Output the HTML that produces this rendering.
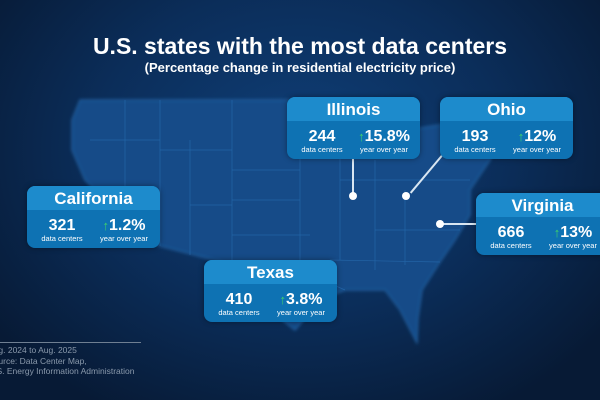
<!DOCTYPE html>
<html><head><meta charset="utf-8"><style>
body{margin:0;width:600px;height:400px;overflow:hidden;font-family:"Liberation Sans",sans-serif;}
#bg{position:absolute;left:0;top:0;width:600px;height:400px;background:radial-gradient(ellipse 380px 300px at 300px 150px,#0f3f78 0%,#0b2d59 55%,#071a35 100%);}
.t{position:absolute;left:0;width:600px;text-align:center;color:#fff;font-weight:bold;}
.box{position:absolute;width:133px;height:62px;border-radius:8px;overflow:hidden;background:#0e72b3;box-shadow:0 0 6px rgba(0,0,0,.4);color:#fff;}
.box .h{height:24px;background:#1d8bcc;text-align:center;font-weight:bold;font-size:17px;line-height:25px;}
.box .c{position:absolute;top:31px;text-align:center;width:62px;}
.c .n{font-weight:bold;font-size:16px;line-height:17px;}
.c .s{font-size:7.5px;line-height:10px;}
.ar{color:#3fd16a;font-size:13px;}
.dot{position:absolute;width:8px;height:8px;border-radius:50%;background:#fff;}
.ln{position:absolute;background:#d8e6f2;}
.fn{position:absolute;left:-12px;color:#8a99ab;font-size:8.5px;line-height:10.5px;}
</style></head><body>
<div id="bg"></div>
<svg width="600" height="400" style="position:absolute;left:0;top:0">
<defs><filter id="b"><feGaussianBlur stdDeviation="1.5"/></filter></defs>
<path filter="url(#b)" d="M80,100 L290,100 L330,108 L360,125 L395,135 L420,128 L470,120 L498,140 L490,160 L470,190 L470,215 L455,240 L440,262 L422,290 L418,318 L417,343 L400,310 L385,290 L345,290 L320,300 L295,330 L280,318 L262,295 L240,278 L222,262 L160,246 L140,238 L128,225 L105,200 L85,180 L72,150 L72,120 Z" fill="#134c88" stroke="#2769ad" stroke-width="1"/>
<g stroke="#2a6fb4" stroke-width="0.7" fill="none" opacity="0.7">
<path d="M125,100 L125,200 M160,100 L160,246 M190,140 L190,255 M232,100 L232,270 M232,170 L300,170 M232,200 L300,200 M232,235 L310,235 M300,140 L300,270 M160,150 L232,150 M190,205 L232,205 M300,140 L340,140 M340,140 L340,260 M375,160 L375,270 M300,270 L345,290 M405,190 L405,265 M375,230 L460,230 M330,260 L440,262 M340,180 L470,180 M90,140 L160,140"/>
</g>
</svg>
<div class="t" style="top:33px;font-size:23px">U.S. states with the most data centers</div>
<div class="t" style="top:60px;font-size:13px">(Percentage change in residential electricity price)</div>

<div class="ln" style="left:352px;top:159px;width:2px;height:37px"></div>
<div class="dot" style="left:349px;top:192px"></div>
<div class="ln" style="top:154px;width:2px;height:50px;transform:rotate(40deg);transform-origin:top left;left:442px"></div>
<div class="dot" style="left:402px;top:192px"></div>
<div class="ln" style="left:440px;top:223px;width:38px;height:2px"></div>
<div class="dot" style="left:436px;top:220px"></div>

<div class="box" style="left:287px;top:97px"><div class="h">Illinois</div>
<div class="c" style="left:4px"><div class="n">244</div><div class="s">data centers</div></div>
<div class="c" style="left:66px"><div class="n"><span class="ar">↑</span>15.8%</div><div class="s">year over year</div></div></div>

<div class="box" style="left:440px;top:97px"><div class="h">Ohio</div>
<div class="c" style="left:4px"><div class="n">193</div><div class="s">data centers</div></div>
<div class="c" style="left:66px"><div class="n"><span class="ar">↑</span>12%</div><div class="s">year over year</div></div></div>

<div class="box" style="left:476px;top:193px"><div class="h">Virginia</div>
<div class="c" style="left:4px"><div class="n">666</div><div class="s">data centers</div></div>
<div class="c" style="left:66px"><div class="n"><span class="ar">↑</span>13%</div><div class="s">year over year</div></div></div>

<div class="box" style="left:27px;top:186px"><div class="h">California</div>
<div class="c" style="left:4px"><div class="n">321</div><div class="s">data centers</div></div>
<div class="c" style="left:66px"><div class="n"><span class="ar">↑</span>1.2%</div><div class="s">year over year</div></div></div>

<div class="box" style="left:204px;top:260px"><div class="h">Texas</div>
<div class="c" style="left:4px"><div class="n">410</div><div class="s">data centers</div></div>
<div class="c" style="left:66px"><div class="n"><span class="ar">↑</span>3.8%</div><div class="s">year over year</div></div></div>

<div class="ln" style="left:0;top:342px;width:141px;height:1px;background:#6f7f92"></div>
<div class="fn" style="top:345px">Aug. 2024 to Aug. 2025<br>Source: Data Center Map,<br>U.S. Energy Information Administration</div>
</body></html>
